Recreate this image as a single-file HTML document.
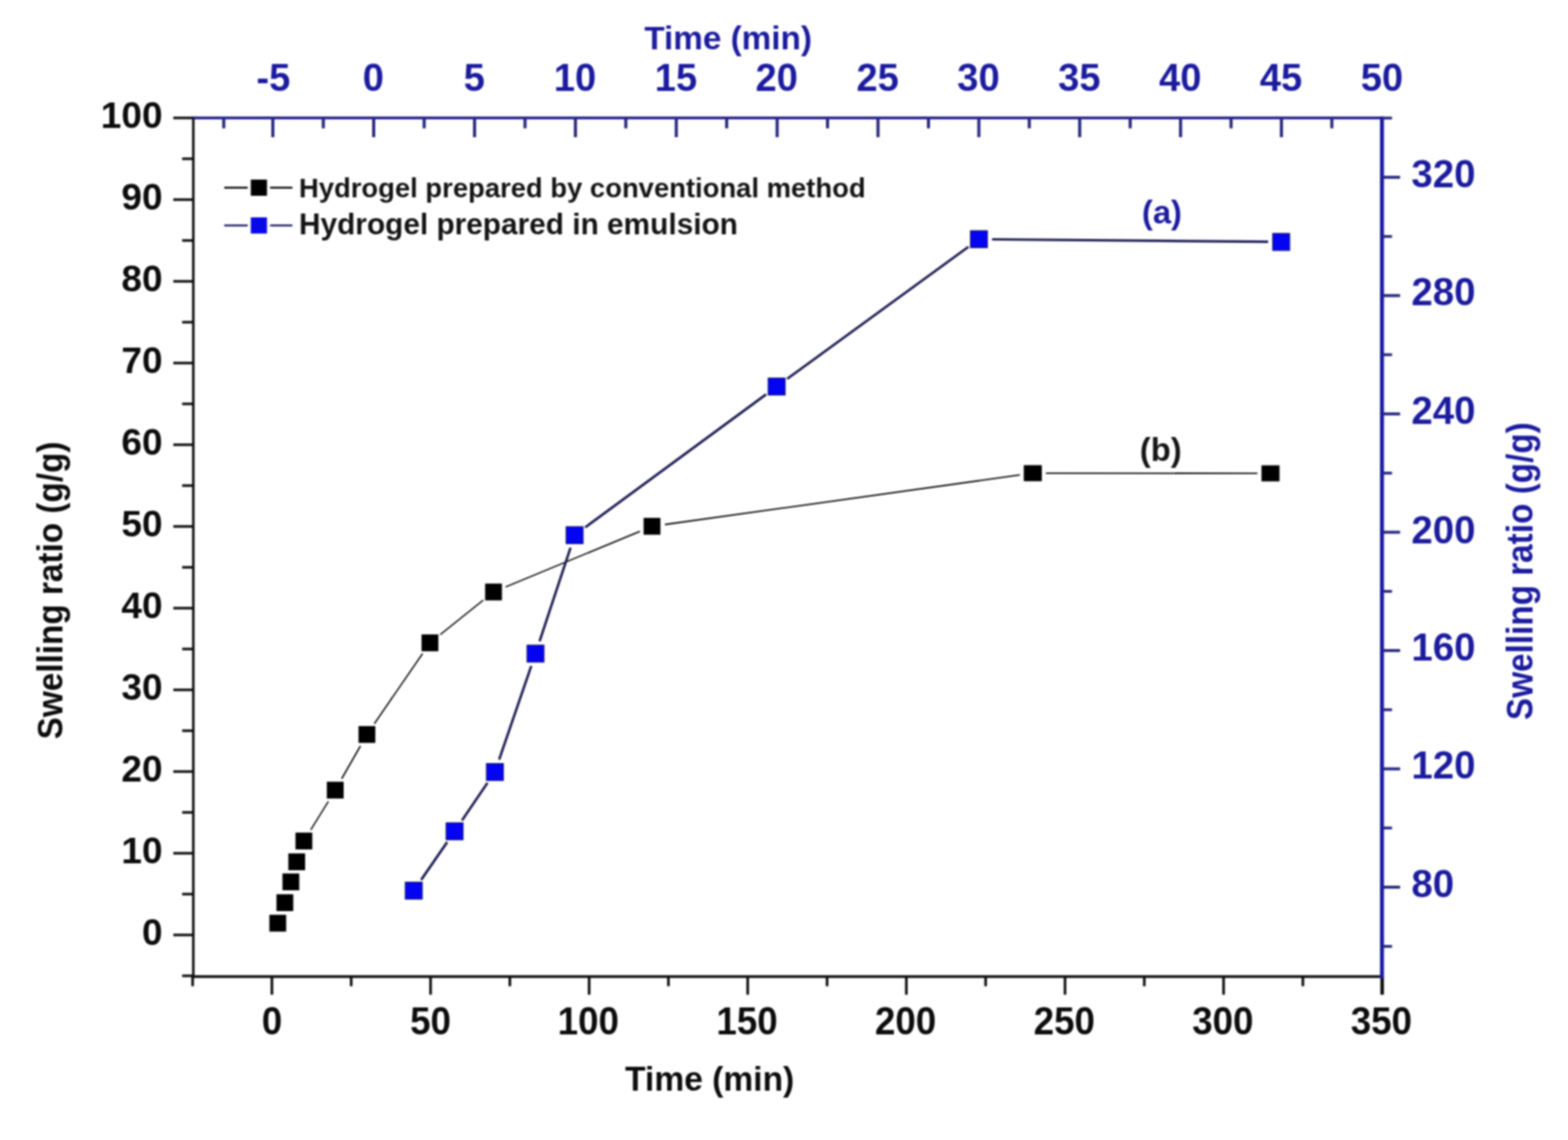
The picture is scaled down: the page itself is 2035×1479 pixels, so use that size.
<!DOCTYPE html>
<html lang="en"><head><meta charset="utf-8"><title>Swelling ratio vs time</title>
<style>
html,body{margin:0;padding:0;background:#fff;}
body{width:2035px;height:1479px;overflow:hidden;}
svg{display:block;font-family:"Liberation Sans",Arial,Helvetica,sans-serif;font-weight:bold;}
</style></head><body>
<svg width="2035" height="1479" viewBox="0 0 2035 1479">
<defs><filter id="soft" x="0" y="0" width="2035" height="1479" filterUnits="userSpaceOnUse" color-interpolation-filters="sRGB"><feGaussianBlur stdDeviation="0.85"/></filter></defs>
<rect x="0" y="0" width="2035" height="1479" fill="#ffffff"/>
<g filter="url(#soft)">
<rect x="0" y="0" width="2035" height="1479" fill="#ffffff"/>
<line x1="250.9" y1="151.4" x2="250.9" y2="1268.6" stroke="#0c0c0c" stroke-width="3.2"/>
<line x1="224.9" y1="1213.0" x2="250.9" y2="1213.0" stroke="#0c0c0c" stroke-width="3.3"/>
<text transform="translate(210.9,1225.6) scale(1,1.015)" font-size="48.1" fill="#0c0c0c" text-anchor="end">0</text>
<line x1="224.9" y1="1107.0" x2="250.9" y2="1107.0" stroke="#0c0c0c" stroke-width="3.3"/>
<text transform="translate(210.9,1119.6) scale(1,1.015)" font-size="48.1" fill="#0c0c0c" text-anchor="end">10</text>
<line x1="224.9" y1="1001.0" x2="250.9" y2="1001.0" stroke="#0c0c0c" stroke-width="3.3"/>
<text transform="translate(210.9,1013.6) scale(1,1.015)" font-size="48.1" fill="#0c0c0c" text-anchor="end">20</text>
<line x1="224.9" y1="895.0" x2="250.9" y2="895.0" stroke="#0c0c0c" stroke-width="3.3"/>
<text transform="translate(210.9,907.6) scale(1,1.015)" font-size="48.1" fill="#0c0c0c" text-anchor="end">30</text>
<line x1="224.9" y1="789.0" x2="250.9" y2="789.0" stroke="#0c0c0c" stroke-width="3.3"/>
<text transform="translate(210.9,801.6) scale(1,1.015)" font-size="48.1" fill="#0c0c0c" text-anchor="end">40</text>
<line x1="224.9" y1="683.0" x2="250.9" y2="683.0" stroke="#0c0c0c" stroke-width="3.3"/>
<text transform="translate(210.9,695.6) scale(1,1.015)" font-size="48.1" fill="#0c0c0c" text-anchor="end">50</text>
<line x1="224.9" y1="577.0" x2="250.9" y2="577.0" stroke="#0c0c0c" stroke-width="3.3"/>
<text transform="translate(210.9,589.6) scale(1,1.015)" font-size="48.1" fill="#0c0c0c" text-anchor="end">60</text>
<line x1="224.9" y1="471.0" x2="250.9" y2="471.0" stroke="#0c0c0c" stroke-width="3.3"/>
<text transform="translate(210.9,483.6) scale(1,1.015)" font-size="48.1" fill="#0c0c0c" text-anchor="end">70</text>
<line x1="224.9" y1="365.0" x2="250.9" y2="365.0" stroke="#0c0c0c" stroke-width="3.3"/>
<text transform="translate(210.9,377.6) scale(1,1.015)" font-size="48.1" fill="#0c0c0c" text-anchor="end">80</text>
<line x1="224.9" y1="259.0" x2="250.9" y2="259.0" stroke="#0c0c0c" stroke-width="3.3"/>
<text transform="translate(210.9,271.6) scale(1,1.015)" font-size="48.1" fill="#0c0c0c" text-anchor="end">90</text>
<line x1="224.9" y1="153.0" x2="250.9" y2="153.0" stroke="#0c0c0c" stroke-width="3.3"/>
<text transform="translate(210.9,165.6) scale(1,1.015)" font-size="48.1" fill="#0c0c0c" text-anchor="end">100</text>
<line x1="236.4" y1="1266.0" x2="250.9" y2="1266.0" stroke="#0c0c0c" stroke-width="3.3"/>
<line x1="236.4" y1="1160.0" x2="250.9" y2="1160.0" stroke="#0c0c0c" stroke-width="3.3"/>
<line x1="236.4" y1="1054.0" x2="250.9" y2="1054.0" stroke="#0c0c0c" stroke-width="3.3"/>
<line x1="236.4" y1="948.0" x2="250.9" y2="948.0" stroke="#0c0c0c" stroke-width="3.3"/>
<line x1="236.4" y1="842.0" x2="250.9" y2="842.0" stroke="#0c0c0c" stroke-width="3.3"/>
<line x1="236.4" y1="736.0" x2="250.9" y2="736.0" stroke="#0c0c0c" stroke-width="3.3"/>
<line x1="236.4" y1="630.0" x2="250.9" y2="630.0" stroke="#0c0c0c" stroke-width="3.3"/>
<line x1="236.4" y1="524.0" x2="250.9" y2="524.0" stroke="#0c0c0c" stroke-width="3.3"/>
<line x1="236.4" y1="418.0" x2="250.9" y2="418.0" stroke="#0c0c0c" stroke-width="3.3"/>
<line x1="236.4" y1="312.0" x2="250.9" y2="312.0" stroke="#0c0c0c" stroke-width="3.3"/>
<line x1="236.4" y1="206.0" x2="250.9" y2="206.0" stroke="#0c0c0c" stroke-width="3.3"/>
<line x1="249.4" y1="1267.0" x2="1795.1" y2="1267.0" stroke="#0c0c0c" stroke-width="3.3"/>
<line x1="352.9" y1="1267.0" x2="352.9" y2="1290.5" stroke="#0c0c0c" stroke-width="3.4"/>
<text transform="translate(352.9,1342.4) scale(1,1.03)" font-size="47.7" fill="#0c0c0c" text-anchor="middle">0</text>
<line x1="558.8" y1="1267.0" x2="558.8" y2="1290.5" stroke="#0c0c0c" stroke-width="3.4"/>
<text transform="translate(558.8,1342.4) scale(1,1.03)" font-size="47.7" fill="#0c0c0c" text-anchor="middle">50</text>
<line x1="764.6" y1="1267.0" x2="764.6" y2="1290.5" stroke="#0c0c0c" stroke-width="3.4"/>
<text transform="translate(763.6,1342.4) scale(1,1.03)" font-size="47.7" fill="#0c0c0c" text-anchor="middle">100</text>
<line x1="970.4" y1="1267.0" x2="970.4" y2="1290.5" stroke="#0c0c0c" stroke-width="3.4"/>
<text transform="translate(969.4,1342.4) scale(1,1.03)" font-size="47.7" fill="#0c0c0c" text-anchor="middle">150</text>
<line x1="1176.3" y1="1267.0" x2="1176.3" y2="1290.5" stroke="#0c0c0c" stroke-width="3.4"/>
<text transform="translate(1175.3,1342.4) scale(1,1.03)" font-size="47.7" fill="#0c0c0c" text-anchor="middle">200</text>
<line x1="1382.2" y1="1267.0" x2="1382.2" y2="1290.5" stroke="#0c0c0c" stroke-width="3.4"/>
<text transform="translate(1381.2,1342.4) scale(1,1.03)" font-size="47.7" fill="#0c0c0c" text-anchor="middle">250</text>
<line x1="1588.0" y1="1267.0" x2="1588.0" y2="1290.5" stroke="#0c0c0c" stroke-width="3.4"/>
<text transform="translate(1587.0,1342.4) scale(1,1.03)" font-size="47.7" fill="#0c0c0c" text-anchor="middle">300</text>
<line x1="1793.8" y1="1267.0" x2="1793.8" y2="1290.5" stroke="#0c0c0c" stroke-width="4.6"/>
<text transform="translate(1792.8,1342.4) scale(1,1.03)" font-size="47.7" fill="#0c0c0c" text-anchor="middle">350</text>
<line x1="250.0" y1="1267.0" x2="250.0" y2="1279.5" stroke="#0c0c0c" stroke-width="3.4"/>
<line x1="455.8" y1="1267.0" x2="455.8" y2="1279.5" stroke="#0c0c0c" stroke-width="3.4"/>
<line x1="661.7" y1="1267.0" x2="661.7" y2="1279.5" stroke="#0c0c0c" stroke-width="3.4"/>
<line x1="867.5" y1="1267.0" x2="867.5" y2="1279.5" stroke="#0c0c0c" stroke-width="3.4"/>
<line x1="1073.4" y1="1267.0" x2="1073.4" y2="1279.5" stroke="#0c0c0c" stroke-width="3.4"/>
<line x1="1279.2" y1="1267.0" x2="1279.2" y2="1279.5" stroke="#0c0c0c" stroke-width="3.4"/>
<line x1="1485.1" y1="1267.0" x2="1485.1" y2="1279.5" stroke="#0c0c0c" stroke-width="3.4"/>
<line x1="1690.9" y1="1267.0" x2="1690.9" y2="1279.5" stroke="#0c0c0c" stroke-width="3.4"/>
<line x1="250.9" y1="153.0" x2="1795.1" y2="153.0" stroke="#1a1a8a" stroke-width="3.7"/>
<line x1="354.1" y1="153.0" x2="354.1" y2="178.0" stroke="#26267e" stroke-width="4.0"/>
<text transform="translate(354.8,117.6) scale(1,1.025)" font-size="49.5" fill="#1b1b9e" text-anchor="middle">-5</text>
<line x1="485.0" y1="153.0" x2="485.0" y2="178.0" stroke="#26267e" stroke-width="4.0"/>
<text transform="translate(484.5,117.6) scale(1,1.025)" font-size="49.5" fill="#1b1b9e" text-anchor="middle">0</text>
<line x1="615.9" y1="153.0" x2="615.9" y2="178.0" stroke="#26267e" stroke-width="4.0"/>
<text transform="translate(615.4,117.6) scale(1,1.025)" font-size="49.5" fill="#1b1b9e" text-anchor="middle">5</text>
<line x1="746.8" y1="153.0" x2="746.8" y2="178.0" stroke="#26267e" stroke-width="4.0"/>
<text transform="translate(746.3,117.6) scale(1,1.025)" font-size="49.5" fill="#1b1b9e" text-anchor="middle">10</text>
<line x1="877.7" y1="153.0" x2="877.7" y2="178.0" stroke="#26267e" stroke-width="4.0"/>
<text transform="translate(877.2,117.6) scale(1,1.025)" font-size="49.5" fill="#1b1b9e" text-anchor="middle">15</text>
<line x1="1008.6" y1="153.0" x2="1008.6" y2="178.0" stroke="#26267e" stroke-width="4.0"/>
<text transform="translate(1008.1,117.6) scale(1,1.025)" font-size="49.5" fill="#1b1b9e" text-anchor="middle">20</text>
<line x1="1139.5" y1="153.0" x2="1139.5" y2="178.0" stroke="#26267e" stroke-width="4.0"/>
<text transform="translate(1139.0,117.6) scale(1,1.025)" font-size="49.5" fill="#1b1b9e" text-anchor="middle">25</text>
<line x1="1270.4" y1="153.0" x2="1270.4" y2="178.0" stroke="#26267e" stroke-width="4.0"/>
<text transform="translate(1269.9,117.6) scale(1,1.025)" font-size="49.5" fill="#1b1b9e" text-anchor="middle">30</text>
<line x1="1401.3" y1="153.0" x2="1401.3" y2="178.0" stroke="#26267e" stroke-width="4.0"/>
<text transform="translate(1400.8,117.6) scale(1,1.025)" font-size="49.5" fill="#1b1b9e" text-anchor="middle">35</text>
<line x1="1532.2" y1="153.0" x2="1532.2" y2="178.0" stroke="#26267e" stroke-width="4.0"/>
<text transform="translate(1531.7,117.6) scale(1,1.025)" font-size="49.5" fill="#1b1b9e" text-anchor="middle">40</text>
<line x1="1663.1" y1="153.0" x2="1663.1" y2="178.0" stroke="#26267e" stroke-width="4.0"/>
<text transform="translate(1662.6,117.6) scale(1,1.025)" font-size="49.5" fill="#1b1b9e" text-anchor="middle">45</text>
<line x1="1794.0" y1="153.0" x2="1794.0" y2="178.0" stroke="#26267e" stroke-width="4.0"/>
<text transform="translate(1793.5,117.6) scale(1,1.025)" font-size="49.5" fill="#1b1b9e" text-anchor="middle">50</text>
<line x1="290.4" y1="153.0" x2="290.4" y2="166.5" stroke="#26267e" stroke-width="4.0"/>
<line x1="419.6" y1="153.0" x2="419.6" y2="166.5" stroke="#26267e" stroke-width="4.0"/>
<line x1="550.5" y1="153.0" x2="550.5" y2="166.5" stroke="#26267e" stroke-width="4.0"/>
<line x1="681.4" y1="153.0" x2="681.4" y2="166.5" stroke="#26267e" stroke-width="4.0"/>
<line x1="812.2" y1="153.0" x2="812.2" y2="166.5" stroke="#26267e" stroke-width="4.0"/>
<line x1="943.1" y1="153.0" x2="943.1" y2="166.5" stroke="#26267e" stroke-width="4.0"/>
<line x1="1074.0" y1="153.0" x2="1074.0" y2="166.5" stroke="#26267e" stroke-width="4.0"/>
<line x1="1205.0" y1="153.0" x2="1205.0" y2="166.5" stroke="#26267e" stroke-width="4.0"/>
<line x1="1335.8" y1="153.0" x2="1335.8" y2="166.5" stroke="#26267e" stroke-width="4.0"/>
<line x1="1466.8" y1="153.0" x2="1466.8" y2="166.5" stroke="#26267e" stroke-width="4.0"/>
<line x1="1597.7" y1="153.0" x2="1597.7" y2="166.5" stroke="#26267e" stroke-width="4.0"/>
<line x1="1728.5" y1="153.0" x2="1728.5" y2="166.5" stroke="#26267e" stroke-width="4.0"/>
<line x1="1793.6" y1="151.2" x2="1793.6" y2="1269.0" stroke="#1c1ca8" stroke-width="5.2"/>
<line x1="1793.6" y1="1151.0" x2="1817.1" y2="1151.0" stroke="#26267e" stroke-width="3.8"/>
<text transform="translate(1831.8,1163.5) scale(1,1.0)" font-size="49.8" fill="#1b1b9e" text-anchor="start">80</text>
<line x1="1793.6" y1="997.5" x2="1817.1" y2="997.5" stroke="#26267e" stroke-width="3.8"/>
<text transform="translate(1831.8,1010.0) scale(1,1.0)" font-size="49.8" fill="#1b1b9e" text-anchor="start">120</text>
<line x1="1793.6" y1="844.0" x2="1817.1" y2="844.0" stroke="#26267e" stroke-width="3.8"/>
<text transform="translate(1831.8,856.5) scale(1,1.0)" font-size="49.8" fill="#1b1b9e" text-anchor="start">160</text>
<line x1="1793.6" y1="690.5" x2="1817.1" y2="690.5" stroke="#26267e" stroke-width="3.8"/>
<text transform="translate(1831.8,704.6) scale(1,1.0)" font-size="49.8" fill="#1b1b9e" text-anchor="start">200</text>
<line x1="1793.6" y1="537.0" x2="1817.1" y2="537.0" stroke="#26267e" stroke-width="3.8"/>
<text transform="translate(1831.8,549.5) scale(1,1.0)" font-size="49.8" fill="#1b1b9e" text-anchor="start">240</text>
<line x1="1793.6" y1="383.5" x2="1817.1" y2="383.5" stroke="#26267e" stroke-width="3.8"/>
<text transform="translate(1831.8,396.0) scale(1,1.0)" font-size="49.8" fill="#1b1b9e" text-anchor="start">280</text>
<line x1="1793.6" y1="230.0" x2="1817.1" y2="230.0" stroke="#26267e" stroke-width="3.8"/>
<text transform="translate(1831.8,242.5) scale(1,1.0)" font-size="49.8" fill="#1b1b9e" text-anchor="start">320</text>
<line x1="1793.6" y1="1227.8" x2="1806.6" y2="1227.8" stroke="#26267e" stroke-width="3.6"/>
<line x1="1793.6" y1="1074.2" x2="1806.6" y2="1074.2" stroke="#26267e" stroke-width="3.6"/>
<line x1="1793.6" y1="920.8" x2="1806.6" y2="920.8" stroke="#26267e" stroke-width="3.6"/>
<line x1="1793.6" y1="767.2" x2="1806.6" y2="767.2" stroke="#26267e" stroke-width="3.6"/>
<line x1="1793.6" y1="613.8" x2="1806.6" y2="613.8" stroke="#26267e" stroke-width="3.6"/>
<line x1="1793.6" y1="460.2" x2="1806.6" y2="460.2" stroke="#26267e" stroke-width="3.6"/>
<line x1="1793.6" y1="306.8" x2="1806.6" y2="306.8" stroke="#26267e" stroke-width="3.6"/>
<line x1="1793.6" y1="153.2" x2="1806.6" y2="153.2" stroke="#26267e" stroke-width="3.6"/>
<text x="945.0" y="64.0" font-size="43.2" fill="#1b1b9e" text-anchor="middle">Time (min)</text>
<text x="921.0" y="1415.3" font-size="43.6" fill="#0c0c0c" text-anchor="middle">Time (min)</text>
<text transform="translate(80.5,766.0) rotate(-90) scale(1,1.09)" font-size="43.2" fill="#0c0c0c" text-anchor="middle">Swelling ratio (g/g)</text>
<text transform="translate(1989.2,741.0) rotate(-90) scale(1,1.12)" font-size="43.2" fill="#1b1b9e" text-anchor="middle">Swelling ratio (g/g)</text>
<line x1="403.3" y1="1076.6" x2="426.2" y2="1039.6" stroke="#000000" stroke-width="1.8"/>
<line x1="443.5" y1="1010.3" x2="467.8" y2="967.7" stroke="#000000" stroke-width="1.8"/>
<line x1="485.8" y1="938.9" x2="548.4" y2="848.0" stroke="#000000" stroke-width="1.8"/>
<line x1="571.3" y1="823.4" x2="627.2" y2="778.6" stroke="#000000" stroke-width="1.8"/>
<line x1="656.2" y1="761.5" x2="830.5" y2="689.3" stroke="#000000" stroke-width="1.8"/>
<line x1="863.0" y1="680.5" x2="1323.6" y2="616.2" stroke="#000000" stroke-width="1.8"/>
<line x1="1357.4" y1="613.9" x2="1631.9" y2="614.1" stroke="#000000" stroke-width="1.8"/>
<rect x="349.6" y="1186.8" width="21.8" height="21.8" fill="#000000"/>
<rect x="358.8" y="1160.2" width="21.8" height="21.8" fill="#000000"/>
<rect x="366.6" y="1133.2" width="21.8" height="21.8" fill="#000000"/>
<rect x="374.2" y="1107.2" width="21.8" height="21.8" fill="#000000"/>
<rect x="383.5" y="1080.2" width="21.8" height="21.8" fill="#000000"/>
<rect x="424.2" y="1014.2" width="21.8" height="21.8" fill="#000000"/>
<rect x="465.3" y="942.0" width="21.8" height="21.8" fill="#000000"/>
<rect x="547.1" y="823.1" width="21.8" height="21.8" fill="#000000"/>
<rect x="629.6" y="757.1" width="21.8" height="21.8" fill="#000000"/>
<rect x="835.3" y="671.9" width="21.8" height="21.8" fill="#000000"/>
<rect x="1328.7" y="603.5" width="23.4" height="20.8" fill="#000000"/>
<rect x="1637.2" y="603.7" width="23.4" height="20.8" fill="#000000"/>
<line x1="546.6" y1="1141.5" x2="580.4" y2="1092.5" stroke="#1a1a50" stroke-width="3.2"/>
<line x1="599.6" y1="1064.4" x2="632.7" y2="1015.7" stroke="#1a1a50" stroke-width="3.2"/>
<line x1="647.8" y1="985.5" x2="689.5" y2="864.1" stroke="#1a1a50" stroke-width="3.2"/>
<line x1="700.3" y1="831.9" x2="740.5" y2="710.4" stroke="#1a1a50" stroke-width="3.2"/>
<line x1="759.5" y1="684.2" x2="994.3" y2="511.6" stroke="#1a1a50" stroke-width="3.2"/>
<line x1="1021.7" y1="491.5" x2="1256.8" y2="320.3" stroke="#1a1a50" stroke-width="3.2"/>
<line x1="1287.5" y1="310.5" x2="1645.8" y2="313.7" stroke="#1a1a50" stroke-width="3.2"/>
<rect x="526.0" y="1144.5" width="22.0" height="22.0" fill="#0404f2" stroke="#14146e" stroke-width="1.2"/>
<rect x="579.0" y="1067.5" width="22.0" height="22.0" fill="#0404f2" stroke="#14146e" stroke-width="1.2"/>
<rect x="631.3" y="990.6" width="22.0" height="22.0" fill="#0404f2" stroke="#14146e" stroke-width="1.2"/>
<rect x="684.0" y="837.0" width="22.0" height="22.0" fill="#0404f2" stroke="#14146e" stroke-width="1.2"/>
<rect x="734.8" y="683.3" width="22.0" height="22.0" fill="#0404f2" stroke="#14146e" stroke-width="1.2"/>
<rect x="997.0" y="490.5" width="22.0" height="22.0" fill="#0404f2" stroke="#14146e" stroke-width="1.2"/>
<rect x="1259.5" y="299.3" width="22.0" height="22.0" fill="#0404f2" stroke="#14146e" stroke-width="1.2"/>
<rect x="1651.8" y="302.9" width="22.0" height="22.0" fill="#0404f2" stroke="#14146e" stroke-width="1.2"/>
<line x1="291.0" y1="243.5" x2="321.5" y2="243.5" stroke="#000000" stroke-width="2.4"/>
<line x1="350.5" y1="243.5" x2="379.5" y2="243.5" stroke="#000000" stroke-width="2.4"/>
<rect x="325.5" y="233.0" width="21.0" height="21.0" fill="#000000"/>
<line x1="291.0" y1="292.5" x2="321.5" y2="292.5" stroke="#14145c" stroke-width="2.4"/>
<line x1="350.5" y1="292.5" x2="379.5" y2="292.5" stroke="#14145c" stroke-width="2.4"/>
<rect x="325.5" y="282.0" width="21.0" height="21.0" fill="#0808e8"/>
<text x="388.0" y="255.6" font-size="35.6" fill="#141414" text-anchor="start">Hydrogel prepared by conventional method</text>
<text x="388.0" y="303.6" font-size="38.7" fill="#141414" text-anchor="start">Hydrogel prepared in emulsion</text>
<text x="1508.0" y="290.3" font-size="42.5" fill="#1b1b9e" text-anchor="middle">(a)</text>
<text x="1506.5" y="597.5" font-size="42.5" fill="#141414" text-anchor="middle">(b)</text>
</g>
</svg>
</body></html>
